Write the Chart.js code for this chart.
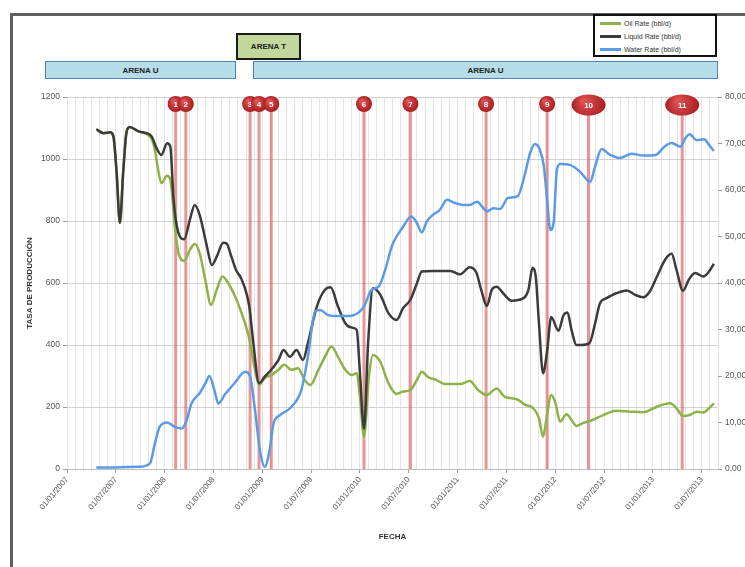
<!DOCTYPE html>
<html lang="es">
<head>
<meta charset="utf-8">
<title>Historial de producción</title>
<script src="https://cdn.jsdelivr.net/npm/chart.js@4.4.1/dist/chart.umd.min.js"></script>
<style>
  html, body { margin: 0; padding: 0; background: #fff; overflow: hidden; }
  #marco { position: absolute; left: 10px; top: 13px; width: 800px; height: 600px;
           border-left: 3px solid #5f5f5f; border-top: 3px solid #5f5f5f; }
  #grafico { position: absolute; left: 0; top: 0; }
  .arena { position: absolute; box-sizing: border-box; display: flex; align-items: center; justify-content: center;
           font: bold 8px 'Liberation Sans', Arial, sans-serif; color: #222; }
  .u { background: #b7dde8; border: 1.5px solid #4f81bd; top: 61px; height: 18px; }
  .t { background: #c3d69b; border: 2px solid #1a1a1a; left: 236px; top: 33px; width: 65px; height: 27px; }
  #leyenda { position: absolute; left: 593px; top: 14px; width: 124px; height: 43px; box-sizing: border-box;
             border: 2px solid #111; background: #fff; padding: 1px 0 0 5px;
             font: 7px 'Liberation Sans', Arial, sans-serif; color: #333; }
  #leyenda .item { height: 13px; display: flex; align-items: center; }
  #leyenda .muestra { display: inline-block; width: 21px; height: 2.5px; margin-right: 3px; }
</style>
</head>
<body>
<div id="marco"></div>
<canvas id="grafico" width="745" height="567"></canvas>
<div class="arena u" style="left:45px; width:191px;">ARENA U</div>
<div class="arena u" style="left:253px; width:465px;">ARENA U</div>
<div class="arena t">ARENA T</div>
<div id="leyenda"></div>

<script>
// Eje X en meses contados desde el 01/01/2007
const fechasTicks = ['01/01/2007', '01/07/2007', '01/01/2008', '01/07/2008', '01/01/2009', '01/07/2009',
  '01/01/2010', '01/07/2010', '01/01/2011', '01/07/2011', '01/01/2012', '01/07/2012', '01/01/2013', '01/07/2013'];

// Eventos del pozo (líneas rojas numeradas)
const eventosMes = [13.35, 14.6, 22.5, 23.6, 25.1, 36.5, 42.2, 51.5, 59.0, 64.1, 75.6];
const eventosNum = ['1', '2', '3', '4', '5', '6', '7', '8', '9', '10', '11'];

// [mes, bbl/d]
const petroleo = [[3.6, 1096], [4.5, 1083], [5.3, 1086], [5.7, 1073], [6.1, 955], [6.5, 794], [6.9, 955],
  [7.3, 1084], [7.7, 1103], [8.8, 1089], [9.8, 1080], [10.4, 1065], [10.8, 1030], [11.2, 965], [11.6, 922],
  [12.3, 946], [12.7, 933], [13.3, 771], [13.7, 696], [14.4, 672], [15.1, 707], [15.7, 726], [16.3, 696],
  [17.0, 610], [17.7, 529], [18.4, 578], [19.1, 621], [19.8, 600], [20.6, 560], [21.5, 500], [22.4, 420],
  [23.1, 320], [23.6, 271], [24.3, 293], [25.1, 303], [26.0, 320], [26.7, 336], [27.6, 320], [28.4, 325],
  [29.2, 287], [29.9, 271], [30.9, 320], [31.7, 362], [32.5, 395], [33.3, 362], [34.2, 320], [35.0, 303],
  [35.6, 309], [36.0, 233], [36.5, 104], [37.1, 298], [37.6, 368], [38.5, 346], [39.5, 277], [40.5, 242],
  [41.3, 250], [42.2, 255], [43.0, 287], [43.6, 314], [44.4, 296], [45.4, 287], [46.4, 274], [48.3, 274],
  [49.5, 284], [50.5, 255], [51.6, 239], [52.8, 260], [53.8, 233], [55.3, 225], [56.3, 207], [57.3, 196],
  [58.0, 164], [58.5, 104], [58.9, 158], [59.5, 239], [60.0, 215], [60.6, 153], [61.4, 177], [62.0, 158],
  [62.6, 139], [63.4, 148], [64.3, 155], [65.9, 174], [67.5, 188], [69.2, 185], [70.8, 183], [72.5, 201],
  [74.1, 212], [74.9, 196], [75.7, 171], [76.5, 174], [77.4, 185], [78.2, 182], [78.9, 196], [79.5, 212]];

const liquido = [[3.6, 1096], [4.5, 1083], [5.3, 1086], [5.7, 1073], [6.1, 955], [6.5, 794], [6.9, 955],
  [7.3, 1084], [7.7, 1103], [8.8, 1089], [9.8, 1083], [10.4, 1073], [11.0, 1035], [11.6, 1013], [12.3, 1051],
  [12.7, 1040], [13.1, 868], [13.7, 761], [14.4, 741], [15.1, 804], [15.7, 852], [16.3, 820], [17.2, 717],
  [17.8, 658], [18.4, 685], [19.2, 730], [19.6, 728], [20.2, 685], [20.8, 640], [21.4, 615], [22.4, 524],
  [22.9, 406], [23.6, 277], [24.3, 298], [25.1, 320], [26.0, 352], [26.6, 384], [27.4, 362], [28.2, 384],
  [29.0, 352], [29.6, 406], [30.7, 524], [31.7, 578], [32.4, 586], [33.3, 524], [34.2, 470], [34.9, 457],
  [35.6, 449], [36.0, 309], [36.5, 130], [37.0, 406], [37.6, 583], [38.5, 562], [39.5, 503], [40.5, 481],
  [41.3, 519], [42.2, 546], [43.0, 599], [43.6, 637], [45.0, 639], [47.1, 639], [48.3, 628], [49.5, 651],
  [50.3, 634], [50.9, 578], [51.6, 526], [52.2, 578], [52.8, 588], [53.6, 567], [54.6, 543], [56.1, 551],
  [56.7, 578], [57.2, 648], [57.6, 621], [58.0, 470], [58.5, 309], [59.0, 380], [59.5, 490], [60.4, 446],
  [61.0, 495], [61.5, 505], [62.0, 449], [62.6, 400], [63.2, 400], [64.2, 406], [64.9, 470], [65.5, 535],
  [66.3, 551], [67.5, 567], [68.8, 576], [69.8, 562], [70.8, 554], [71.6, 572], [72.5, 621], [73.5, 675],
  [74.3, 694], [74.9, 642], [75.7, 575], [76.4, 610], [77.2, 632], [78.2, 621], [78.9, 637], [79.5, 662]];

// eje derecho
const agua = [[3.6, 0.3], [9.0, 0.5], [10.2, 1.2], [10.8, 5.5], [11.4, 9.1], [12.3, 10.0], [13.3, 9.0],
  [14.1, 8.7], [14.7, 10.5], [15.3, 14.1], [16.3, 16.3], [17.0, 18.4], [17.5, 20.0], [18.1, 17.0], [18.6, 14.1],
  [19.4, 16.0], [20.6, 18.5], [21.9, 20.9], [22.5, 19.9], [23.1, 12.7], [23.7, 4.1], [24.3, 0.5], [24.9, 4.1],
  [25.4, 9.9], [26.2, 11.6], [27.6, 13.4], [28.8, 17.0], [29.6, 24.1], [30.5, 33.9], [31.1, 34.2], [32.1, 33.1],
  [33.3, 32.9], [34.6, 32.9], [36.0, 33.9], [36.6, 35.3], [37.4, 38.5], [38.3, 39.2], [39.1, 42.8], [39.9, 47.8],
  [40.5, 50.0], [41.3, 52.1], [42.3, 54.3], [43.0, 52.9], [43.6, 50.9], [44.2, 53.2], [45.0, 54.7], [45.8, 55.7],
  [46.7, 57.9], [47.7, 57.2], [48.7, 56.8], [49.5, 56.8], [50.4, 57.5], [51.0, 56.5], [51.6, 55.4], [52.4, 56.1],
  [53.2, 55.9], [54.2, 58.3], [55.4, 58.7], [56.3, 63.6], [56.9, 67.9], [57.5, 69.9], [58.1, 68.7], [58.6, 65.1],
  [59.0, 57.9], [59.4, 51.4], [59.8, 53.0], [60.2, 64.3], [60.6, 65.6], [61.8, 65.4], [63.0, 64.0], [64.3, 61.8],
  [64.9, 65.1], [65.7, 68.8], [66.7, 67.6], [67.9, 66.9], [69.4, 67.8], [70.8, 67.4], [72.4, 67.6], [73.4, 69.3],
  [74.3, 70.1], [75.4, 69.3], [75.9, 70.9], [76.5, 72.0], [77.4, 70.7], [78.3, 70.9], [78.9, 69.7], [79.5, 68.4]];

const familia = "'Liberation Sans', Arial, sans-serif";
Chart.defaults.font.family = familia;

const aPuntos = serie => serie.map(p => ({ x: p[0], y: p[1] }));

const eventosPlugin = {
  id: 'eventos',
  beforeDatasetsDraw(chart) {
    const { ctx, chartArea, scales: { x } } = chart;
    ctx.save();
    ctx.strokeStyle = 'rgba(218, 78, 78, 0.6)';
    ctx.lineWidth = 3;
    eventosMes.forEach(m => {
      const px = x.getPixelForValue(m);
      ctx.beginPath();
      ctx.moveTo(px, chartArea.top + 6);
      ctx.lineTo(px, chartArea.bottom);
      ctx.stroke();
    });
    ctx.restore();
  },
  afterDatasetsDraw(chart) {
    const { ctx, chartArea, scales: { x } } = chart;
    ctx.save();
    eventosMes.forEach((m, i) => {
      const px = x.getPixelForValue(m);
      const doble = eventosNum[i].length > 1;
      const rx = doble ? 17 : 8;
      const ry = doble ? 10.5 : 8;
      const py = chartArea.top + (doble ? 8 : 7);
      const grad = ctx.createRadialGradient(px - rx * 0.3, py - ry * 0.4, 1, px, py, rx);
      grad.addColorStop(0, '#e25454');
      grad.addColorStop(1, '#a81c20');
      ctx.fillStyle = grad;
      ctx.beginPath();
      ctx.ellipse(px, py, rx, ry, 0, 0, Math.PI * 2);
      ctx.fill();
      ctx.fillStyle = '#fff';
      ctx.font = 'bold 8px ' + familia;
      ctx.textAlign = 'center';
      ctx.textBaseline = 'middle';
      ctx.fillText(eventosNum[i], px, py + 0.5);
    });
    ctx.restore();
  }
};

const grafico = new Chart(document.getElementById('grafico'), {
  type: 'line',
  data: {
    datasets: [
      { label: 'Oil Rate (bbl/d)', data: aPuntos(petroleo), borderColor: '#8db24a', yAxisID: 'y', order: 2 },
      { label: 'Liquid Rate (bbl/d)', data: aPuntos(liquido), borderColor: '#3b3b3b', yAxisID: 'y', order: 1 },
      { label: 'Water Rate (bbl/d)', data: aPuntos(agua), borderColor: '#5b9be6', yAxisID: 'y2', order: 0 }
    ]
  },
  options: {
    responsive: false,
    animation: false,
    elements: {
      point: { radius: 0 },
      line: { borderWidth: 2.5, cubicInterpolationMode: 'monotone' }
    },
    layout: { padding: { top: 97, left: 0, right: 0, bottom: 0 } },
    plugins: { legend: { display: false }, tooltip: { enabled: false } },
    scales: {
      x: {
        type: 'linear', min: 0, max: 80,
        ticks: {
          stepSize: 1, autoSkip: false, maxRotation: 50, minRotation: 50, padding: 2,
          font: { size: 8 }, color: '#555',
          callback: v => (v % 6 === 0 ? fechasTicks[v / 6] : '')
        },
        grid: {
          color: '#e4e4e4', tickLength: 4,
          tickColor: c => (c.tick && c.tick.value % 6 === 0 ? '#999' : 'rgba(0,0,0,0)')
        },
        border: { color: '#bdbdbd' },
        title: { display: true, text: 'FECHA', font: { size: 8, weight: 'bold' }, color: '#333', padding: { bottom: 25 } },
        afterFit: s => { s.height = 98; }
      },
      y: {
        min: 0, max: 1200,
        ticks: { stepSize: 200, font: { size: 8.5 }, color: '#555', padding: 3, callback: v => String(v) },
        grid: { color: '#d2d2d2', tickLength: 4, tickColor: '#999' },
        border: { display: false },
        title: { display: true, text: 'TASA DE PRODUCCIÓN', font: { size: 8, weight: 'bold' }, color: '#333', padding: { top: 25 } },
        afterFit: s => { s.width = 67; }
      },
      y2: {
        position: 'right', min: 0, max: 80,
        ticks: { stepSize: 10, font: { size: 8.5 }, color: '#555', padding: 3,
                 callback: v => v.toFixed(2).replace('.', ',') },
        grid: { drawOnChartArea: false, tickLength: 4, tickColor: '#999' },
        border: { display: false },
        afterFit: s => { s.width = 27; }
      }
    }
  },
  plugins: [eventosPlugin]
});

// Leyenda en recuadro arriba a la derecha
const leyenda = document.getElementById('leyenda');
grafico.data.datasets.forEach(ds => {
  const item = document.createElement('div');
  item.className = 'item';
  item.innerHTML = '<span class="muestra" style="background:' + ds.borderColor + '"></span>' + ds.label;
  leyenda.appendChild(item);
});
</script>
</body>
</html>
